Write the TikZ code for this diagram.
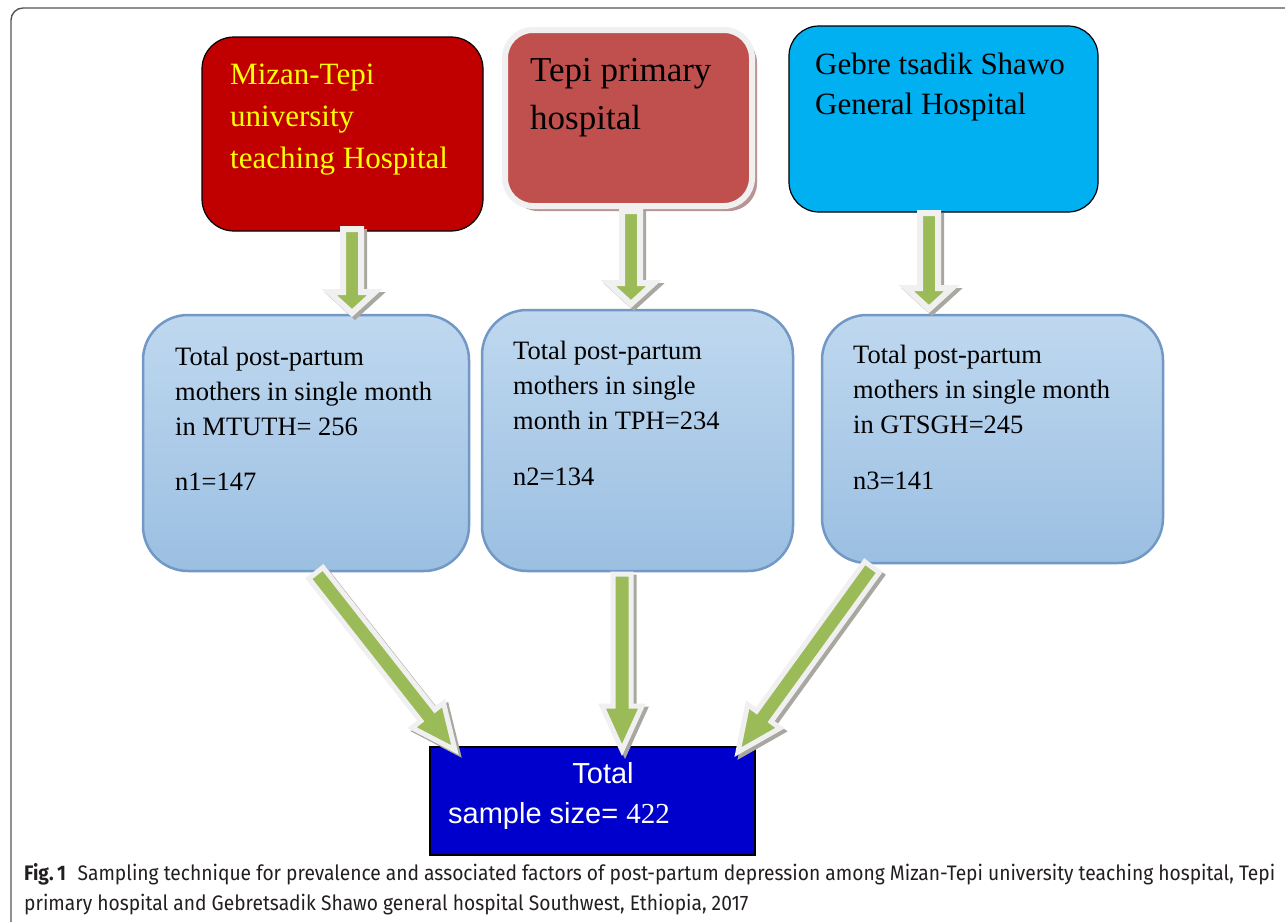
\documentclass[tikz,border=0pt]{standalone}
\usepackage{fontspec}
\setmainfont{Liberation Serif}
\newfontfamily\arialfont{Liberation Sans}
\newfontfamily\capfont[FakeStretch=0.915]{Fira Sans}
\usetikzlibrary{calc,shadows}
\definecolor{redA}{HTML}{C00000}
\definecolor{redB}{HTML}{C0504D}
\definecolor{shadowB}{HTML}{B89594}
\definecolor{cyanC}{HTML}{00B0F0}
\definecolor{midtop}{HTML}{BFD8EF}
\definecolor{midbot}{HTML}{9BBFE2}
\definecolor{midborder}{HTML}{7298C5}
\definecolor{arrowgreen}{HTML}{9BBB59}
\definecolor{arrowedge}{HTML}{F0F0F0}
\definecolor{arrowshadow}{HTML}{A8A8A0}
\definecolor{navyD}{HTML}{0000CC}
\definecolor{yel}{HTML}{FFFF00}
\definecolor{captext}{HTML}{231F20}
\definecolor{framec}{HTML}{555555}

% #1 start, #2 tip, #3 shaft half width, #4 head half width, #5 head length
\newcommand{\bapoly}[5]{($(#1)!#3!90:(#2)$) -- ($(ba-h)!#3!90:(#2)$) -- ($(ba-h)!#4!90:(#2)$) -- (#2) -- ($(ba-h)!#4!-90:(#2)$) -- ($(ba-h)!#3!-90:(#2)$) -- ($(#1)!#3!-90:(#2)$) -- cycle}
\newcommand{\blockarrow}[6]{%
  \coordinate (ba-h) at ($(#2)!#5!(#1)$);
  \path[fill=arrowshadow, draw=arrowshadow, line width=#6, line join=miter, transform canvas={xshift=3pt,yshift=-3pt}] \bapoly{#1}{#2}{#3}{#4}{#5};
  \path[fill=arrowgreen, draw=arrowedge, line width=#6, line join=miter] \bapoly{#1}{#2}{#3}{#4}{#5};
}

\tikzset{
  hospA/.style={draw=black, line width=1.2pt, fill=redA, rounded corners=32pt, inner sep=0pt},
  hospB/.style={draw=arrowedge, line width=6pt, fill=redB, rounded corners=28pt, inner sep=0pt,
     drop shadow={shadow xshift=5pt, shadow yshift=-5pt, fill=shadowB, opacity=1}},
  hospC/.style={draw=black, line width=1.2pt, fill=cyanC, rounded corners=30pt, inner sep=0pt},
  midbox/.style={draw=midborder, line width=2.5pt, top color=midtop, bottom color=midbot, rounded corners=45pt, inner sep=0pt},
  totbox/.style={draw=black, line width=1.2pt, fill=navyD, inner sep=0pt},
  txt/.style={inner sep=0pt, anchor=north west, align=left},
}

\begin{document}
\begin{tikzpicture}[x=1pt,y=-1pt]
\useasboundingbox (0,0) rectangle (1285,921);
\fill[white] (0,0) rectangle (1285,921);

% frame
\draw[framec, line width=1.4pt, rounded corners=12pt] (11,925) -- (11,8) -- (1290,8);

% hospital boxes
\node[hospA, minimum width=281pt, minimum height=194pt] (A) at (342.5,134) {};
\node[hospB, minimum width=247pt, minimum height=176pt] (B) at (628.5,118) {};
\node[hospC, minimum width=309pt, minimum height=186pt] (C) at (943.5,119) {};

\node[txt, text=yel, font=\fontsize{31}{42}\selectfont] (At) at (230,64) {Mizan-Tepi\\university\\teaching Hospital};
\node[txt, text=black, font=\fontsize{35}{48}\selectfont] (Bt) at (530,58) {Tepi primary\\hospital};
\node[txt, text=black, font=\fontsize{31}{40}\selectfont] (Ct) at (815,53) {Gebre tsadik Shawo\\General Hospital};

% middle boxes
\node[midbox, minimum width=326pt, minimum height=256pt] (M1) at (306,443) {};
\node[midbox, minimum width=311pt, minimum height=261pt] (M2) at (637.5,440.5) {};
\node[midbox, minimum width=341pt, minimum height=248pt] (M3) at (992.5,439) {};

\node[txt, font=\fontsize{26.5}{35}\selectfont] (M1t) at (175,347) {Total post-partum\\mothers in single month\\in MTUTH= 256};
\node[txt, font=\fontsize{26.5}{35}\selectfont] (M1n) at (175,473) {n1=147};
\node[txt, font=\fontsize{26.5}{35}\selectfont] (M2t) at (513,341) {Total post-partum\\mothers in single\\month in TPH=234};
\node[txt, font=\fontsize{26.5}{35}\selectfont] (M2n) at (513,468) {n2=134};
\node[txt, font=\fontsize{26.5}{35}\selectfont] (M3t) at (853,345) {Total post-partum\\mothers in single month\\in GTSGH=245};
\node[txt, font=\fontsize{26.5}{35}\selectfont] (M3n) at (853,472) {n3=141};

% total box
\node[totbox, minimum width=325pt, minimum height=108pt] (D) at (592.5,801) {};
\node[inner sep=0pt, anchor=base, text=white, font=\arialfont\fontsize{29}{35}\selectfont] (Dt) at (603,783) {Total};
\node[inner sep=0pt, anchor=base west, text=white, font=\arialfont\fontsize{29}{35}\selectfont] (Ds) at (448,823) {sample size= {\rmfamily 422}};

% arrow end points
\coordinate (a1s) at (352,229);
\coordinate (a1t) at (352,313);
\coordinate (a2s) at (631,211);
\coordinate (a2t) at (631,304);
\coordinate (a3s) at (929,213);
\coordinate (a3t) at (929,309);
\coordinate (b1s) at (316,573);
\coordinate (b1t) at (455,750);
\coordinate (b2s) at (622,574);
\coordinate (b2t) at (622,750);
\coordinate (b3s) at (872,567);
\coordinate (b3t) at (738,752);

\blockarrow{a1s}{a1t}{9pt}{23pt}{21pt}{6pt}
\blockarrow{a2s}{a2t}{9pt}{23pt}{21pt}{6pt}
\blockarrow{a3s}{a3t}{9pt}{23pt}{21pt}{6pt}
\blockarrow{b1s}{b1t}{9pt}{20pt}{44pt}{5pt}
\blockarrow{b2s}{b2t}{9pt}{20pt}{44pt}{5pt}
\blockarrow{b3s}{b3t}{9pt}{20pt}{44pt}{5pt}

% caption (base anchor sits on the last line)
\fill[white] (12,858) rectangle (1285,921);
\node[inner sep=0pt, anchor=base west, align=left, text=captext, font=\capfont\fontsize{21}{30}\selectfont] (cap) at (24,910)
 {{\bfseries Fig.\,1}\hspace{0.55em}Sampling technique for prevalence and associated factors of post-partum depression among Mizan-Tepi university teaching hospital, Tepi\\primary hospital and Gebretsadik Shawo general hospital Southwest, Ethiopia, 2017};
\end{tikzpicture}
\end{document}
